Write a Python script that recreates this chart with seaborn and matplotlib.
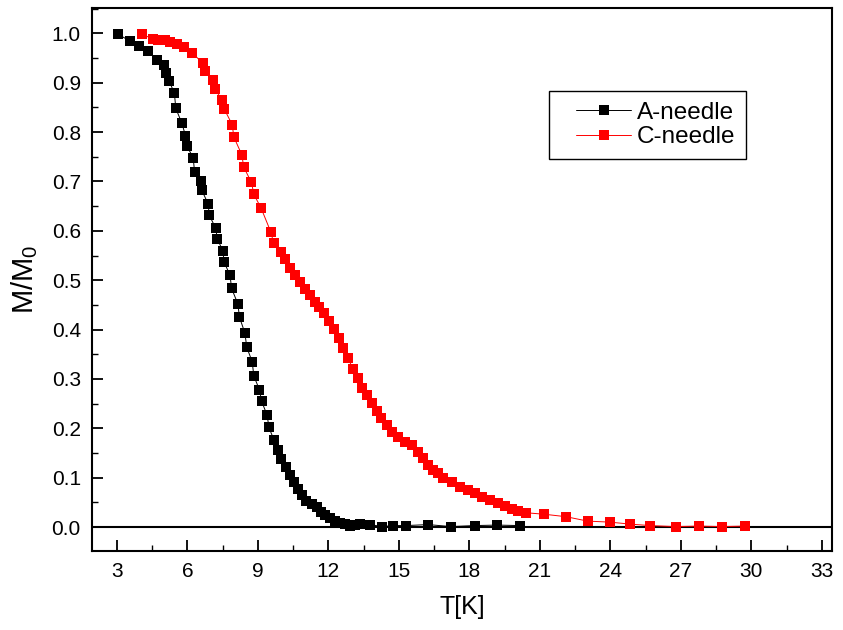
import matplotlib
matplotlib.use("Agg")
import matplotlib.pyplot as plt
import seaborn as sns
import pandas as pd
from matplotlib.ticker import MultipleLocator
from matplotlib.lines import Line2D
from matplotlib.legend_handler import HandlerLine2D

a_T = [3.06, 3.58, 3.95, 4.33, 4.69, 5.0, 5.11, 5.23, 5.45, 5.51, 5.77, 5.92, 5.99, 6.25, 6.31,
       6.57, 6.62, 6.89, 6.93, 7.2, 7.28, 7.51, 7.57, 7.82, 7.88, 8.15, 8.22, 8.45, 8.53, 8.76,
       8.83, 9.07, 9.16, 9.40, 9.47, 9.68, 9.84, 9.99, 10.19, 10.36, 10.55, 10.72, 10.9, 11.07,
       11.29, 11.5, 11.67, 11.85, 12.06, 12.28, 12.49, 12.70, 12.94, 13.13, 13.34, 13.77, 14.29,
       14.76, 15.3, 16.25, 17.21, 18.22, 19.18, 20.15]
a_M = [0.998, 0.984, 0.974, 0.964, 0.947, 0.935, 0.920, 0.903, 0.879, 0.848, 0.818, 0.793, 0.771,
       0.748, 0.719, 0.700, 0.682, 0.654, 0.632, 0.606, 0.584, 0.559, 0.536, 0.510, 0.484, 0.452,
       0.425, 0.393, 0.364, 0.335, 0.306, 0.278, 0.255, 0.226, 0.202, 0.177, 0.157, 0.137, 0.121,
       0.105, 0.092, 0.078, 0.065, 0.053, 0.047, 0.040, 0.031, 0.024, 0.018, 0.013, 0.009, 0.006,
       0.003, 0.005, 0.006, 0.005, 0.001, 0.003, 0.003, 0.005, 0.001, 0.003, 0.004, 0.003]

c_T = [4.08, 4.52, 4.76, 5.04, 5.26, 5.57, 5.85, 6.22, 6.65, 6.74, 7.10, 7.16, 7.47, 7.58, 7.91,
       7.98, 8.32, 8.40, 8.73, 8.83, 9.14, 9.55, 9.67, 9.97, 10.15, 10.39, 10.59, 10.79, 10.99,
       11.21, 11.43, 11.62, 11.82, 12.03, 12.23, 12.45, 12.63, 12.84, 13.04, 13.26, 13.45, 13.65,
       13.85, 14.05, 14.26, 14.48, 14.69, 14.97, 15.26, 15.54, 15.82, 16.03, 16.25, 16.46, 16.67,
       16.89, 17.24, 17.60, 17.95, 18.23, 18.52, 18.87, 19.23, 19.51, 19.80, 20.08, 20.40, 21.18,
       22.11, 23.04, 23.98, 24.83, 25.69, 26.77, 27.77, 28.74, 29.71]
c_M = [0.998, 0.989, 0.987, 0.986, 0.982, 0.979, 0.972, 0.960, 0.940, 0.923, 0.905, 0.888, 0.866,
       0.846, 0.815, 0.790, 0.754, 0.729, 0.698, 0.674, 0.646, 0.598, 0.576, 0.557, 0.542, 0.524,
       0.510, 0.497, 0.482, 0.470, 0.456, 0.445, 0.433, 0.418, 0.401, 0.382, 0.362, 0.342, 0.321,
       0.302, 0.282, 0.267, 0.251, 0.235, 0.220, 0.206, 0.193, 0.183, 0.173, 0.166, 0.152, 0.139,
       0.126, 0.115, 0.109, 0.100, 0.092, 0.082, 0.075, 0.069, 0.060, 0.055, 0.048, 0.043, 0.036,
       0.033, 0.029, 0.026, 0.021, 0.012, 0.010, 0.006, 0.003, 0.001, 0.002, 0.001, 0.002]

x_ticks = [3, 6, 9, 12, 15, 18, 21, 24, 27, 30, 33]
y_ticks = [0.0, 0.1, 0.2, 0.3, 0.4, 0.5, 0.6, 0.7, 0.8, 0.9, 1.0]

sns.set_style("ticks")
plt.rcParams['font.family'] = ['Liberation Sans', 'DejaVu Sans']
plt.rcParams['mathtext.fontset'] = 'custom'
plt.rcParams['mathtext.rm'] = 'Liberation Sans'
plt.rcParams['mathtext.it'] = 'Liberation Sans'
plt.rcParams['text.color'] = 'black'
plt.rcParams['axes.labelcolor'] = 'black'
plt.rcParams['xtick.color'] = 'black'
plt.rcParams['ytick.color'] = 'black'

df = pd.concat([
    pd.DataFrame({"T": a_T, "M": a_M, "series": "A-needle"}),
    pd.DataFrame({"T": c_T, "M": c_M, "series": "C-needle"}),
], ignore_index=True)

fig = plt.figure(figsize=(8.43, 6.30), dpi=100)
ax = fig.add_axes([0.109, 0.125, 0.878, 0.862])

ax.axhline(0, color="black", lw=1.5, zorder=1)

sns.lineplot(data=df, x="T", y="M", hue="series", palette={"A-needle": "black", "C-needle": "red"},
             marker="s", markersize=7.5, markeredgewidth=0, linewidth=0.7, sort=False,
             estimator=None, ax=ax, zorder=3)

ax.set_xlim(1.94, 33.43)
ax.set_ylim(-0.049, 1.051)
ax.set_xticks(x_ticks)
ax.set_yticks(y_ticks)
ax.set_yticklabels([f"{v:.1f}" for v in y_ticks])
ax.xaxis.set_minor_locator(MultipleLocator(1.5))
ax.yaxis.set_minor_locator(MultipleLocator(0.05))
ax.tick_params(which="major", direction="in", length=8, width=1.3, labelsize=15, pad=8,
               color="black", labelcolor="black")
ax.tick_params(which="minor", direction="in", length=4, width=1.0, color="black")
for sp in ax.spines.values():
    sp.set_visible(True)
    sp.set_linewidth(1.5)
    sp.set_color("black")

ax.set_xlabel("T[K]", fontsize=18, labelpad=10, color="black")
ax.set_ylabel(r"M/M$_0$", fontsize=21, labelpad=8, color="black")

handles, labels = ax.get_legend_handles_labels()
if ax.get_legend():
    ax.get_legend().remove()
leg = ax.legend(handles, labels, loc="upper left", bbox_to_anchor=(0.6176, 0.847), borderaxespad=0,
                fontsize=17.5, frameon=True, fancybox=False, edgecolor="black",
                handlelength=2.95, borderpad=0.42, labelspacing=0.12, handletextpad=0.25,
                framealpha=1, handler_map={Line2D: HandlerLine2D(xpad=0.7)})
leg.get_frame().set_linewidth(1.0)
for t in leg.get_texts():
    t.set_color("black")

fig.savefig("out.png", dpi=100)
